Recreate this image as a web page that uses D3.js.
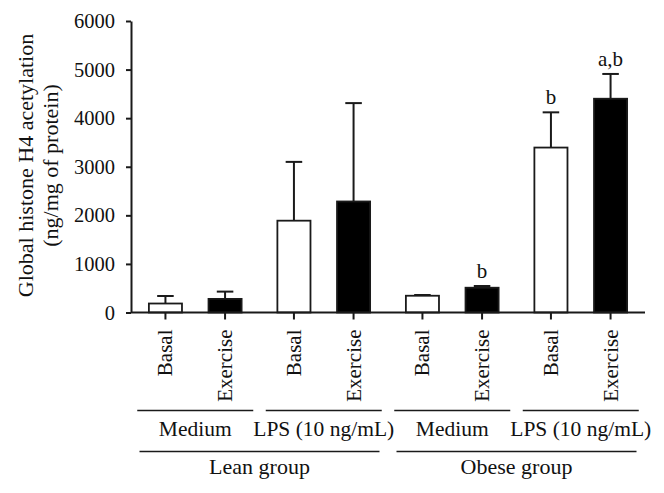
<!DOCTYPE html>
<html>
<head>
<meta charset="utf-8">
<script src="https://cdn.jsdelivr.net/npm/d3@7"></script>
<style>
  html, body { margin: 0; padding: 0; background: #fff; }
  svg { display: block; }
  svg text { font-family: "Liberation Serif", "Times New Roman", serif !important; fill: #111; }
</style>
</head>
<body>
<div id="chart"></div>
<script>
// ---- data ----
const groups = ["Lean", "Lean", "Obese", "Obese"];
const treatments = ["Medium", "LPS (10 ng/mL)", "Medium", "LPS (10 ng/mL)"];
const conditions = ["Basal", "Exercise"];
const cohorts = ["Lean group", "Obese group"];
// means per treatment-group [Basal, Exercise]
const basalMeans = [185, 1890, 345, 3395];
const exerciseMeans = [280, 2285, 510, 4400];
const basalErr = [155, 1210, 15, 725];
const exerciseErr = [150, 2025, 36, 510];
const basalSig = ["", "", "", "b"];
const exerciseSig = ["", "", "b", "a,b"];
const yTicks = [0, 1000, 2000, 3000, 4000, 5000, 6000];

(function () {
const W = 664, H = 493;
const svg = d3.select("#chart").append("svg").attr("width", W).attr("height", H);
svg.append("rect").attr("width", W).attr("height", H).attr("fill", "#fff");

const mLeft = 131, mRight = 645, mTop = 21, mBottom = 312.5;
const y = d3.scaleLinear().domain([0, 6000]).range([mBottom, mTop]);
const x0 = d3.scaleBand().domain(d3.range(4)).range([mLeft, mRight]).paddingInner(0).paddingOuter(0);
const x1 = d3.scaleBand().domain(conditions).range([0, x0.bandwidth()]).paddingInner(0.445).paddingOuter(0.3);

const ink = "#1a1a1a";

// bars data
const bars = [];
d3.range(4).forEach(i => {
  bars.push({g: i, c: "Basal", v: basalMeans[i], e: basalErr[i], s: basalSig[i]});
  bars.push({g: i, c: "Exercise", v: exerciseMeans[i], e: exerciseErr[i], s: exerciseSig[i]});
});
const cx = d => x0(d.g) + x1(d.c) + x1.bandwidth() / 2;
const bw = x1.bandwidth();

// error bars (drawn first so bar fill covers lower part)
const eg = svg.append("g").attr("stroke", ink).attr("stroke-width", 2).attr("fill", "none");
eg.selectAll("line.v").data(bars).join("line").attr("class", "v")
  .attr("x1", cx).attr("x2", cx)
  .attr("y1", d => y(d.v)).attr("y2", d => y(d.v + d.e));
eg.selectAll("line.cap").data(bars).join("line").attr("class", "cap")
  .attr("x1", d => cx(d) - bw / 4).attr("x2", d => cx(d) + bw / 4)
  .attr("y1", d => y(d.v + d.e)).attr("y2", d => y(d.v + d.e));

// bars
svg.append("g").selectAll("rect").data(bars).join("rect")
  .attr("x", d => x0(d.g) + x1(d.c))
  .attr("width", bw)
  .attr("y", d => y(d.v))
  .attr("height", d => y(0) - y(d.v))
  .attr("fill", d => d.c === "Basal" ? "#fff" : "#000")
  .attr("stroke", ink).attr("stroke-width", 1.8);

// significance letters
svg.append("g").selectAll("text").data(bars.filter(d => d.s)).join("text")
  .attr("x", cx).attr("y", d => y(d.v + d.e) - 8)
  .attr("text-anchor", "middle").attr("font-size", 21)
  .text(d => d.s);

// y axis
const yAxis = d3.axisLeft(y).tickValues(yTicks).tickFormat(d3.format("d"))
  .tickSize(5).tickPadding(11).tickSizeOuter(0);
const ya = svg.append("g").attr("transform", `translate(${mLeft},0)`).call(yAxis)
  .attr("font-family", null).attr("font-size", null);
ya.select(".domain").attr("stroke", ink).attr("stroke-width", 2);
ya.selectAll(".tick line").attr("stroke", ink).attr("stroke-width", 2);
ya.selectAll(".tick text").attr("font-size", 20.5).attr("fill", "#111");

// x axis line
svg.append("line").attr("x1", mLeft).attr("x2", mRight).attr("y1", y(0)).attr("y2", y(0))
  .attr("stroke", ink).attr("stroke-width", 2);
// x ticks
svg.append("g").selectAll("line").data(bars).join("line")
  .attr("x1", cx).attr("x2", cx).attr("y1", y(0)).attr("y2", y(0) + 7)
  .attr("stroke", ink).attr("stroke-width", 2);
// rotated condition labels
svg.append("g").selectAll("text").data(bars).join("text")
  .attr("transform", d => `translate(${cx(d)},${y(0) + 17}) rotate(-90)`)
  .attr("text-anchor", "end").attr("dy", "0.33em").attr("font-size", 21)
  .text(d => d.c);

// treatment brackets
const gc = i => x0(i) + x0.bandwidth() / 2;
const tg = svg.append("g");
tg.selectAll("line").data(d3.range(4)).join("line")
  .attr("x1", i => gc(i) - 58).attr("x2", i => gc(i) + 58)
  .attr("y1", 410.5).attr("y2", 410.5)
  .attr("stroke", ink).attr("stroke-width", 1.6);
tg.selectAll("text").data(d3.range(4)).join("text")
  .attr("x", gc).attr("y", 436).attr("text-anchor", "middle").attr("font-size", 21.5)
  .text(i => treatments[i]);

// cohort brackets
const cc = k => (gc(2 * k) + gc(2 * k + 1)) / 2;
const cg = svg.append("g");
cg.selectAll("line").data([0, 1]).join("line")
  .attr("x1", k => cc(k) - 120).attr("x2", k => cc(k) + 120)
  .attr("y1", 451.5).attr("y2", 451.5)
  .attr("stroke", ink).attr("stroke-width", 1.6);
cg.selectAll("text").data([0, 1]).join("text")
  .attr("x", cc).attr("y", 474).attr("text-anchor", "middle").attr("font-size", 22)
  .text(k => cohorts[k]);

// y title
const yt = svg.append("text").attr("transform", `translate(33,165.5) rotate(-90)`)
  .attr("text-anchor", "middle").attr("font-size", 22);
yt.append("tspan").attr("x", 0).attr("dy", 0).text("Global histone H4 acetylation");
yt.append("tspan").attr("x", 0).attr("dy", 25).text("(ng/mg of protein)");
})();
</script>
</body>
</html>
